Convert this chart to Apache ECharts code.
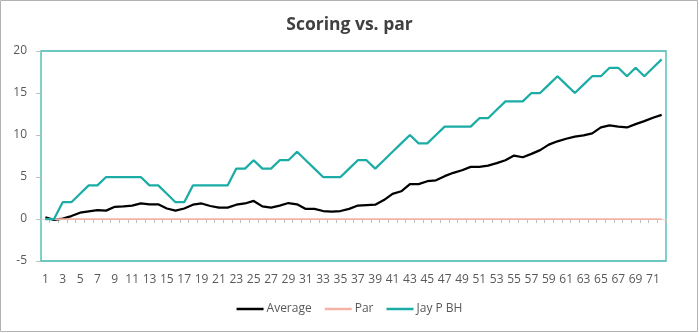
<!DOCTYPE html>
<html>
<head>
<meta charset="utf-8">
<script src="https://cdn.jsdelivr.net/npm/echarts@6/dist/echarts.min.js"></script>
<style>
  html, body { margin: 0; padding: 0; background: #fff; }
  #chart { width: 699px; height: 333px; }
</style>
</head>
<body>
<div id="chart"></div>
<script>
// Round numbers 1..72
const rounds = Array.from({ length: 72 }, (_, i) => String(i + 1));

// Cumulative strokes over par
const average = [
  0.2, -0.1, 0.05, 0.35, 0.75, 0.9, 1.05, 1.0, 1.45, 1.5,
  1.6, 1.85, 1.75, 1.75, 1.25, 1.0, 1.25, 1.7, 1.85, 1.55,
  1.35, 1.35, 1.7, 1.85, 2.15, 1.5, 1.35, 1.6, 1.9, 1.75,
  1.2, 1.2, 0.95, 0.87, 0.95, 1.2, 1.6, 1.65, 1.7, 2.25,
  3.0, 3.3, 4.15, 4.15, 4.5, 4.6, 5.1, 5.5, 5.8, 6.2,
  6.2, 6.35, 6.65, 7.0, 7.55, 7.35, 7.75, 8.2, 8.85, 9.25,
  9.55, 9.8, 9.95, 10.2, 10.9, 11.15, 11.0, 10.9, 11.3, 11.65,
  12.05, 12.4
];
const par = rounds.map(() => 0);
const jayPBH = [
  0, 0, 2, 2, 3, 4, 4, 5, 5, 5,
  5, 5, 4, 4, 3, 2, 2, 4, 4, 4,
  4, 4, 6, 6, 7, 6, 6, 7, 7, 8,
  7, 6, 5, 5, 5, 6, 7, 7, 6, 7,
  8, 9, 10, 9, 9, 10, 11, 11, 11, 11,
  12, 12, 13, 14, 14, 14, 15, 15, 16, 17,
  16, 15, 16, 17, 17, 18, 18, 17, 18, 17,
  18, 19
];

const yMin = -5, yMax = 20, yStep = 5;

const FONT = '"Open Sans", "Noto Sans", sans-serif';
const TEAL = '#1aaca5';
const chart = echarts.init(document.getElementById('chart'), null, { renderer: 'canvas' });

chart.setOption({
  animation: false,
  backgroundColor: '#ffffff',
  textStyle: { fontFamily: FONT },
  graphic: [{
    type: 'rect',
    shape: { x: 0.5, y: 0.5, width: 697, height: 331 },
    style: { fill: 'none', stroke: '#b3b3b3', lineWidth: 1 },
    silent: true
  }],
  title: {
    text: 'Scoring vs. par',
    left: 'center',
    top: 11,
    textStyle: { fontFamily: FONT, fontSize: 17.5, fontWeight: 'bold', color: '#404040' }
  },
  legend: {
    bottom: 13,
    left: 'center',
    icon: 'rect',
    itemWidth: 27,
    itemHeight: 2.5,
    itemGap: 13,
    textStyle: { fontFamily: FONT, fontSize: 12, color: '#595959', padding: [0, 0, 0, -2] },
    data: ['Average', 'Par', 'Jay P BH']
  },
  grid: {
    left: 41, right: 33, top: 51, bottom: 72,
    show: true,
    borderColor: '#3cb6b0',
    borderWidth: 1.3,
    backgroundColor: 'transparent'
  },
  xAxis: [
    {
      type: 'category',
      data: rounds,
      boundaryGap: true,
      position: 'bottom',
      axisLine: { show: false, onZero: false },
      axisTick: { show: false },
      axisLabel: { interval: 1, margin: 13, fontSize: 12, color: '#595959', fontFamily: FONT },
      splitLine: { show: false }
    },
    {
      type: 'category',
      data: rounds,
      boundaryGap: true,
      position: 'bottom',
      axisLine: { show: true, onZero: true, lineStyle: { color: '#d9d9d9', width: 1 } },
      axisTick: { show: true, length: 4, interval: 0, lineStyle: { color: '#bfbfbf' } },
      axisLabel: { show: false },
      splitLine: { show: false }
    }
  ],
  yAxis: {
    type: 'value',
    min: yMin,
    max: yMax,
    interval: yStep,
    axisLine: { show: false },
    axisTick: { show: true, length: 5, lineStyle: { color: '#bfbfbf' } },
    axisLabel: { margin: 14, fontSize: 12, color: '#595959', fontFamily: FONT },
    splitLine: { show: false }
  },
  series: [
    {
      name: 'Average',
      type: 'line',
      data: average,
      symbol: 'none',
      lineStyle: { color: '#000000', width: 2.25 },
      itemStyle: { color: '#000000' }
    },
    {
      name: 'Par',
      type: 'line',
      data: par,
      symbol: 'none',
      lineStyle: { color: '#f4b3a5', width: 1.75 },
      itemStyle: { color: '#f4b3a5' }
    },
    {
      name: 'Jay P BH',
      type: 'line',
      data: jayPBH,
      symbol: 'none',
      lineStyle: { color: TEAL, width: 2.25 },
      itemStyle: { color: TEAL }
    }
  ]
});
</script>
</body>
</html>
